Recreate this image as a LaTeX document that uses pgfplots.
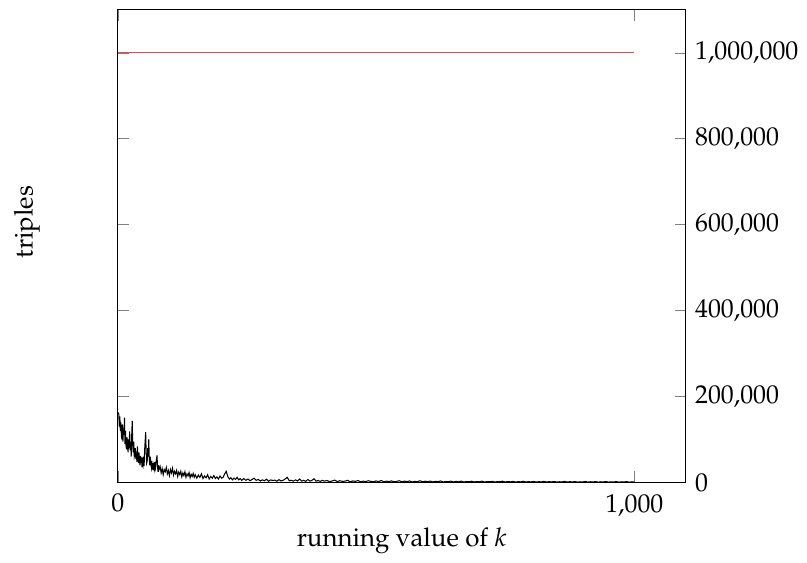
\documentclass[border=0pt]{standalone}
\usepackage[T1]{fontenc}
\usepackage{mathpazo}
\usepackage{pgfplots}
\pgfplotsset{compat=1.18}

\pgfplotstableread{
k val
1 163000
2 158000
3 130000
4 154000
5 120000
6 140000
7 110000
8 100000
9 135000
10 95000
11 125000
12 110000
13 151000
14 90000
15 120000
16 85000
17 77000
18 105000
19 90000
20 70000
21 100000
22 80000
23 119000
24 75000
25 95000
26 60000
27 110000
28 143000
29 85000
30 70000
31 95000
32 60000
33 65000
34 80000
35 55000
36 70000
37 48000
38 84000
39 60000
40 45000
41 70000
42 52000
43 40000
44 62000
45 45000
46 58000
47 35000
48 50000
49 42000
50 60000
51 38000
52 75000
53 95000
54 117000
55 70000
56 45000
57 50000
58 80000
59 60000
60 100000
61 55000
62 40000
63 60000
64 44000
65 35000
66 50000
67 30000
68 45000
69 28000
70 40000
71 32000
72 48000
73 35000
74 45000
75 55000
76 63000
77 35000
78 25000
79 40000
80 30000
82 37000
84 22000
86 32000
88 18000
90 30000
92 25000
94 35000
96 20000
98 28000
100 16000
102 30000
104 22000
106 33000
108 17000
110 26000
112 20000
114 28000
116 14000
118 24000
120 18000
122 26000
124 13000
126 22000
128 16000
130 25000
132 12000
134 20000
136 15000
138 23000
140 11000
142 19000
144 14000
146 21000
148 12000
150 18000
153 10000
156 17000
159 12000
162 20000
165 9000
168 15000
171 11000
174 18000
177 8000
180 14000
183 10000
186 16000
189 9000
192 13000
195 8000
198 15000
201 10000
204 12000
207 20000
210 26000
213 14000
216 8000
219 11000
222 6000
225 10000
228 7000
231 12000
234 6000
237 9000
240 5000
244 9000
248 5000
252 8000
256 4000
260 7000
264 10000
268 5000
272 7000
276 3500
280 6000
284 4000
288 7500
292 3000
296 6000
300 4500
304 5500
308 3000
312 6500
316 3500
320 5000
324 8000
328 12000
332 4000
336 5000
340 3000
344 6000
348 3500
352 8000
356 3000
360 5000
364 2500
368 7000
372 3000
376 5000
380 8500
384 3000
388 4500
392 2500
396 5000
400 3000
405 4500
410 2000
415 3500
420 5500
425 2000
430 4000
435 2500
440 3000
445 5000
450 1500
455 3500
460 2500
465 4500
470 1500
475 3000
480 2000
485 4000
490 2500
495 1500
500 3500
505 2000
510 4500
515 1500
520 3000
525 2000
530 3500
535 1500
540 2500
545 4000
550 1500
555 3000
560 2000
565 3500
570 1200
575 2500
580 1800
585 4000
590 1500
595 2800
600 1800
605 3200
610 1200
615 2500
620 2000
625 3500
630 1200
635 2200
640 1800
645 3000
650 1200
655 2500
660 1500
665 3200
670 1000
675 2200
680 1800
685 2800
690 1200
695 2000
700 1500
705 3000
710 1000
715 2200
720 1600
725 2600
730 1000
735 2000
740 1500
745 3000
750 1000
755 2200
760 1400
765 2500
770 1000
775 1800
780 1500
785 2800
790 1000
795 2000
800 1300
805 2400
810 1000
815 1800
820 1400
825 2600
830 900
835 1900
840 1300
845 2200
850 900
855 1700
860 1300
865 2400
870 900
875 1800
880 1200
885 2100
890 900
895 1600
900 1200
905 2300
910 800
915 1700
920 1200
925 2000
930 800
935 1600
940 1100
945 2200
950 800
955 1500
960 1100
965 1900
970 800
975 1600
980 1000
985 2000
990 800
995 1500
1000 1000
}\tripletable

\begin{document}
\begin{tikzpicture}
\begin{axis}[
  scale only axis,
  width=220pt, height=183pt,
  xmin=0, xmax=1100,
  ymin=0, ymax=1100000,
  xtick={0,1000},
  ytick={0,200000,400000,600000,800000,1000000},
  scaled x ticks=false,
  scaled y ticks=false,
  yticklabel style={/pgf/number format/fixed, /pgf/number format/precision=0},
  xticklabel style={yshift=-1pt},
  yticklabel pos=right,
  tick style={gray},
  xlabel={running value of $k$},
  xlabel style={yshift=2.5pt},
  ylabel={triples},
  ylabel style={at={(axis description cs:-0.16,0.551)}, anchor=center},
]
\addplot[black, thin] table[x=k, y=val] {\tripletable};
\addplot[red!75, thin] coordinates {(0,1000000) (1000,1000000)};
\end{axis}
\path (current axis.south west) ++(-45.6pt,0pt);
\path (current axis.north west) ++(0pt,3.8pt);
\end{tikzpicture}
\end{document}
